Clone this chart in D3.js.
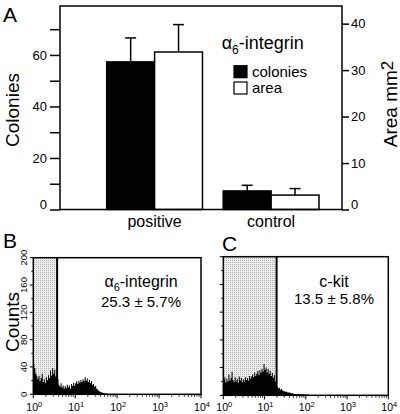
<!DOCTYPE html>
<html>
<head>
<meta charset="utf-8">
<script src="https://cdn.jsdelivr.net/npm/d3@7"></script>
<style>
  body { margin: 0; background: #fff; }
  text { font-family: "Liberation Sans", Arial, Helvetica, sans-serif; fill: #000; }
</style>
</head>
<body>
<script>
// ---------------- data ----------------
const categories = ["positive", "control"];
const seriesNames = ["colonies", "area"];
const colonies = [57.3, 7.2];
const coloniesErr = [9.3, 2.2];
const area = [33.9, 3.1];
const areaErr = [5.9, 1.4];
const leftTicks = [0, 10, 20, 30, 40, 50, 60, 70];
const leftLabels = [0, 20, 40, 60];
const rightTicks = [0, 10, 20, 30, 40];

// histogram bins: 40 bins per decade starting at 10^0 (counts)
const histB = [44,38,30,26,22,27,19,24,30,18,22,16,25,21,28,24,35,27,38,30,36,26,31,22,
  14,11,16,10,13,8,12,9,14,10,13,8,15,12,17,13,16,19,15,20,17,21,18,22,19,25,20,23,18,21,
  16,19,14,15,11,12,8,7,5,4,3,3,2,2,1,1,1,0.5,0.5,0.5,0];
const histC = [22,26,18,24,20,30,21,25,34,22,19,26,20,24,18,27,21,25,19,23,20,26,22,25,21,
  28,24,27,30,26,33,28,31,35,29,36,32,38,34,45,37,40,33,38,31,35,28,32,25,29,20,17,12,10,11,
  8,9,7,6,6,5,5,4,4,4,3,3,3,2,2,2,2,2,1.5,1.5,1.5,1,1.5,1,1,1,1,1,0.5,0.5,0.5,0.5,0.5,0.5,
  0.5,0.5,0.5,0.5,0.5,0.5,0.5,0.5,0.5,0.5,0.5,0.5,0];
const countTicks = [0, 20, 40, 60, 80, 100, 120, 140, 160, 180, 200];
const countLabels = [0, 40, 80, 120, 160, 200];
const logMajor = [1, 10, 100, 1000, 10000];
const gateB = 3.7, gateC = 19.6;

// ---------------- drawing ----------------
const W = 400, H = 414;
const svg = d3.select("body").append("svg").attr("width", W).attr("height", H);
const font = '"Liberation Sans", Arial, Helvetica, sans-serif';

const defs = svg.append("defs");
const pat = defs.append("pattern").attr("id", "stip").attr("patternUnits", "userSpaceOnUse")
  .attr("width", 2).attr("height", 2);
pat.append("rect").attr("width", 2).attr("height", 2).attr("fill", "#ececec");
pat.append("rect").attr("width", 1).attr("height", 1).attr("fill", "#b4b4b4");

// ===== Panel A =====
const A = { l: 60, r: 342, t: 6, b: 209.5 };
const yL = d3.scaleLinear().domain([0, 79]).range([A.b, A.t]);
const yR = d3.scaleLinear().domain([0, 43.8]).range([A.b, A.t]);
const x0 = d3.scaleBand().domain(categories).range([106.7, 319]).paddingInner(0.178).paddingOuter(0);
const x1 = d3.scaleBand().domain(seriesNames).range([0, x0.bandwidth()]);

const gA = svg.append("g");
// left axis
const axL = gA.append("g").attr("transform", `translate(${A.l},0)`)
  .call(d3.axisLeft(yL).tickValues(leftTicks).tickSize(10).tickPadding(3)
    .tickFormat(d => leftLabels.includes(d) ? d : ""));
axL.select(".domain").remove();
axL.selectAll("line").attr("stroke-width", 1.5);
axL.selectAll("text").style("font-size", "13px").style("font-family", font)
  .attr("dy", d => d === 0 ? "-0.05em" : "0.32em");
// right axis
const axR = gA.append("g").attr("transform", `translate(${A.r},0)`)
  .call(d3.axisRight(yR).tickValues(rightTicks).tickSize(7).tickPadding(2));
axR.select(".domain").remove();
axR.selectAll("line").attr("stroke-width", 1.5);
axR.selectAll("text").style("font-size", "13px").style("font-family", font)
  .attr("dy", d => d === 0 ? "-0.05em" : "0.32em");

// bars
const barData = categories.flatMap((c, i) => [
  { c, s: "colonies", y: yL(colonies[i]), e: yL(colonies[i] + coloniesErr[i]) },
  { c, s: "area", y: yR(area[i]), e: yR(area[i] + areaErr[i]) }
]);
const barFill = { colonies: "#000", area: "#fff" };
// error bars (upper only)
gA.selectAll(".err").data(barData).join("g").each(function (d) {
  const cx = x0(d.c) + x1(d.s) + x1.bandwidth() / 2;
  const g = d3.select(this);
  g.append("line").attr("x1", cx).attr("x2", cx).attr("y1", d.y).attr("y2", d.e)
    .attr("stroke", "#000").attr("stroke-width", 1.5);
  g.append("line").attr("x1", cx - 5.5).attr("x2", cx + 5.5).attr("y1", d.e).attr("y2", d.e)
    .attr("stroke", "#000").attr("stroke-width", 1.5);
});
gA.selectAll(".bar").data(barData).join("rect")
  .attr("x", d => x0(d.c) + x1(d.s)).attr("width", x1.bandwidth())
  .attr("y", d => d.y).attr("height", d => A.b - d.y)
  .attr("fill", d => barFill[d.s]).attr("stroke", "#000").attr("stroke-width", 1.5);

// frame
gA.append("rect").attr("x", A.l).attr("y", A.t).attr("width", A.r - A.l).attr("height", A.b - A.t)
  .attr("fill", "none").attr("stroke", "#000").attr("stroke-width", 1.5);

// category labels
gA.selectAll(".cat").data(categories).join("text")
  .attr("x", d => x0(d) + x0.bandwidth() / 2).attr("y", 227)
  .attr("text-anchor", "middle").style("font-size", "16px").text(d => d);

// axis titles
gA.append("text").attr("transform", "translate(19,110) rotate(-90)").attr("text-anchor", "middle")
  .style("font-size", "19px").text("Colonies");
const rt = gA.append("text").attr("transform", "translate(397,104) rotate(-90)").attr("text-anchor", "middle")
  .style("font-size", "19px");
rt.append("tspan").text("Area mm");
rt.append("tspan").attr("dy", -4).style("font-size", "17px").text("2");

gA.append("text").attr("x", 3).attr("y", 22).style("font-size", "21px").text("A");

// legend
const lt = gA.append("text").attr("x", 221.7).attr("y", 49).style("font-size", "18px");
lt.append("tspan").text("α");
lt.append("tspan").attr("dy", 5).style("font-size", "12px").text("6");
lt.append("tspan").attr("dy", -5).text("-integrin");
const leg = gA.selectAll(".leg").data(seriesNames).join("g")
  .attr("transform", (d, i) => `translate(234,${65.7 + i * 16.3})`);
leg.append("rect").attr("width", 13).attr("height", 12).attr("fill", d => barFill[d])
  .attr("stroke", "#000").attr("stroke-width", 1.2);
leg.append("text").attr("x", 18).attr("y", 11).style("font-size", "15px").text(d => d);

// ===== Histogram panels =====
function histPanel(cfg) {
  const g = svg.append("g");
  const x = d3.scaleLog().domain([1, 1e4]).range([cfg.l, cfg.r]);
  const y = d3.scaleLinear().domain([0, 200]).range([cfg.b, cfg.t]);
  // gate
  g.append("rect").attr("x", cfg.l).attr("y", cfg.t).attr("width", x(cfg.gate) - cfg.l)
    .attr("height", cfg.b - cfg.t).attr("fill", "url(#stip)");
  // histogram
  const pts = cfg.data.map((v, i) => ({ x: Math.pow(10, i / 40), v }));
  const area = d3.area().curve(d3.curveStepAfter)
    .x(d => x(d.x)).y0(y(0)).y1(d => y(d.v));
  g.append("path").datum(pts).attr("d", area).attr("fill", "#000");
  // gate line
  g.append("line").attr("x1", x(cfg.gate)).attr("x2", x(cfg.gate)).attr("y1", cfg.t).attr("y2", cfg.b)
    .attr("stroke", "#000").attr("stroke-width", 2);
  // frame
  g.append("rect").attr("x", cfg.l).attr("y", cfg.t).attr("width", cfg.r - cfg.l)
    .attr("height", cfg.b - cfg.t).attr("fill", "none").attr("stroke", "#000").attr("stroke-width", 1.5);
  // x axis ticks (log minor)
  const minor = [];
  for (let dec = 1; dec < 1e4; dec *= 10) for (let k = 2; k <= 9; k++) minor.push(dec * k);
  g.selectAll(".mx").data(minor).join("line")
    .attr("x1", d => x(d)).attr("x2", d => x(d)).attr("y1", cfg.b).attr("y2", cfg.b + 2.5)
    .attr("stroke", "#000").attr("stroke-width", 0.8);
  g.selectAll(".Mx").data(logMajor).join("line")
    .attr("x1", d => x(d)).attr("x2", d => x(d)).attr("y1", cfg.b).attr("y2", cfg.b + 4)
    .attr("stroke", "#000").attr("stroke-width", 1);
  const xl = g.selectAll(".xl").data(logMajor).join("text")
    .attr("x", d => x(d) + 1).attr("y", 411).attr("text-anchor", "middle")
    .style("font-size", "10.5px");
  xl.append("tspan").text("10");
  xl.append("tspan").attr("dy", -4.5).style("font-size", "7.5px").text(d => Math.round(Math.log10(d)));
  // y axis ticks
  g.selectAll(".yt").data(countTicks).join("line")
    .attr("x1", d => cfg.l - (countLabels.includes(d) ? 3.5 : 2)).attr("x2", cfg.l)
    .attr("y1", d => y(d)).attr("y2", d => y(d)).attr("stroke", "#000").attr("stroke-width", 1);
  if (cfg.yLabels) {
    g.selectAll(".yl").data(countLabels).join("text")
      .attr("transform", d => `translate(${cfg.l - 6},${y(d)}) rotate(-90)`)
      .attr("text-anchor", "middle").style("font-size", "9.5px").text(d => d);
    g.append("text").attr("transform", `translate(19,322) rotate(-90)`).attr("text-anchor", "middle")
      .style("font-size", "19px").text("Counts");
  }
  // panel letter
  g.append("text").attr("x", cfg.letterX).attr("y", cfg.letterY).style("font-size", "21px").text(cfg.letter);
  // annotation
  const t1 = g.append("text").attr("x", cfg.tx).attr("y", cfg.ty1).attr("text-anchor", "middle")
    .style("font-size", "16px");
  cfg.title(t1);
  g.append("text").attr("x", cfg.tx).attr("y", cfg.ty2).attr("text-anchor", "middle")
    .style("font-size", "15px").text(cfg.stat);
}

histPanel({
  l: 33.3, r: 201, t: 257.7, b: 394.3, gate: gateB, data: histB, yLabels: true,
  letter: "B", letterX: 3, letterY: 248, tx: 141, ty1: 287, ty2: 307,
  title: t => {
    t.append("tspan").text("α");
    t.append("tspan").attr("dy", 4).style("font-size", "11px").text("6");
    t.append("tspan").attr("dy", -4).text("-integrin");
  },
  stat: "25.3 ± 5.7%"
});
histPanel({
  l: 223.3, r: 388.3, t: 256.7, b: 395.3, gate: gateC, data: histC, yLabels: false,
  letter: "C", letterX: 222, letterY: 251, tx: 334, ty1: 287, ty2: 304,
  title: t => t.text("c-kit"),
  stat: "13.5 ± 5.8%"
});
</script>
</body>
</html>
